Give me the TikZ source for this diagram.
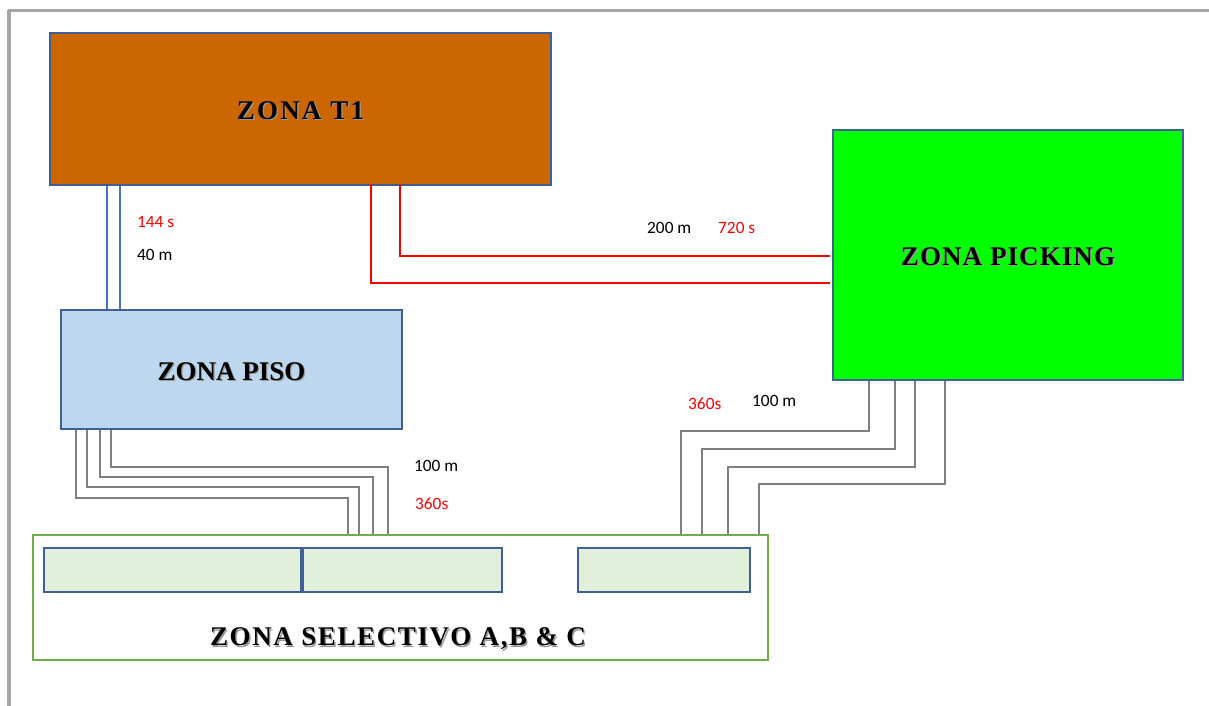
\documentclass[tikz,border=0pt]{standalone}
\usepackage{fontspec}
\setmainfont{Liberation Serif}
\newfontfamily\labfont{Carlito}
\definecolor{frameg}{HTML}{A6A6A6}
\definecolor{t1c}{HTML}{CC6600}
\definecolor{pickc}{HTML}{00FF00}
\definecolor{pisoc}{HTML}{BDD7EE}
\definecolor{cellc}{HTML}{E2EFDA}
\definecolor{bordc}{HTML}{3F5F96}
\definecolor{selc}{HTML}{70AD47}
\definecolor{bluel}{HTML}{4472C4}
\definecolor{grayl}{HTML}{7F7F7F}
\newcommand{\zt}[2]{\raisebox{-2.5pt}[\height][\depth]{\addfontfeatures{LetterSpace=#1}\makebox[0pt][l]{\hspace{1.3pt}\raisebox{-1.3pt}{\color{black!40}#2}}#2}}
\begin{document}
\begin{tikzpicture}[x=1pt,y=-1pt,
  zone/.style={draw=bordc, line width=1.5pt, rectangle, inner sep=0pt,
    font=\fontsize{27}{30}\selectfont\bfseries},
  cell/.style={draw=bordc, line width=1.3pt, fill=cellc, rectangle, inner sep=0pt, minimum height=44pt},
  frameline/.style={draw=frameg, line width=3.8pt},
  blueline/.style={draw=bluel, line width=2pt},
  redline/.style={draw=red, line width=2pt},
  grayline/.style={draw=grayl, line width=2.3pt},
  lab/.style={anchor=west, inner sep=0pt, font=\labfont\fontsize{17.3}{19}\selectfont},
  labr/.style={lab, text=red}]
\useasboundingbox (0,0) rectangle (1209,706);
\draw[frameline] (7.5,10.5) -- (1209,10.5);
\draw[frameline] (9.2,10.5) -- (9.2,706);

% zones
\node[zone, fill=t1c, minimum width=501pt, minimum height=152pt] (t1) at (300.5,109) {\zt{8}{ZONA T1}};
\node[zone, fill=pickc, minimum width=350pt, minimum height=250pt] (pick) at (1008,255) {\zt{4}{ZONA PICKING}};
\node[zone, fill=pisoc, minimum width=341pt, minimum height=119pt] (piso) at (231.5,369.5) {\zt{0}{ZONA PISO}};
\node[draw=selc, line width=1.5pt, fill=white, rectangle, inner sep=0pt, minimum width=735pt, minimum height=125pt] (sel) at (400.5,597.5) {};
\node[cell, minimum width=257pt] (c1) at (172.5,570) {};
\node[cell, minimum width=199pt] (c2) at (402.5,570) {};
\node[cell, minimum width=172pt] (c3) at (664,570) {};
\node[inner sep=0pt, font=\fontsize{27}{30}\selectfont\bfseries] (seltxt) at (398,637) {\zt{6}{ZONA SELECTIVO A,B \& C}};

% T1 -> Piso
\draw[blueline] (t1.south -| 107,0) -- (piso.north -| 107,0);
\draw[blueline] (t1.south -| 120,0) -- (piso.north -| 120,0);

% T1 -> Picking
\draw[redline] ([yshift=2pt]t1.south -| 400,0) -- (400,256) -- ([xshift=-2pt]pick.west |- 0,256);
\draw[redline] ([yshift=2pt]t1.south -| 371,0) -- (371,283) -- ([xshift=-2pt]pick.west |- 0,283);

% Piso -> Selectivo
\draw[grayline] (piso.south -| 76,0) |- (348,498) -- (sel.north -| 348,0);
\draw[grayline] (piso.south -| 87,0) |- (359,487) -- (sel.north -| 359,0);
\draw[grayline] (piso.south -| 100,0) |- (373,477) -- (sel.north -| 373,0);
\draw[grayline] (piso.south -| 111,0) |- (388,467) -- (sel.north -| 388,0);

% Picking -> Selectivo
\draw[grayline] (pick.south -| 869,0) |- (681,431) -- (sel.north -| 681,0);
\draw[grayline] (pick.south -| 895,0) |- (702,449) -- (sel.north -| 702,0);
\draw[grayline] (pick.south -| 915,0) |- (728,467) -- (sel.north -| 728,0);
\draw[grayline] (pick.south -| 945,0) |- (759,484) -- (sel.north -| 759,0);

% labels
\node[labr] (l144) at (137,222) {144 s};
\node[lab] (l40) at (137,255) {40 m};
\node[lab] (l200) at (647,228) {200 m};
\node[labr] (l720) at (718,228) {720 s};
\node[lab] (l100a) at (414,466) {100 m};
\node[labr] (l360a) at (415,504) {360s};
\node[labr] (l360b) at (688,404) {360s};
\node[lab] (l100b) at (752,401) {100 m};
\end{tikzpicture}
\end{document}
